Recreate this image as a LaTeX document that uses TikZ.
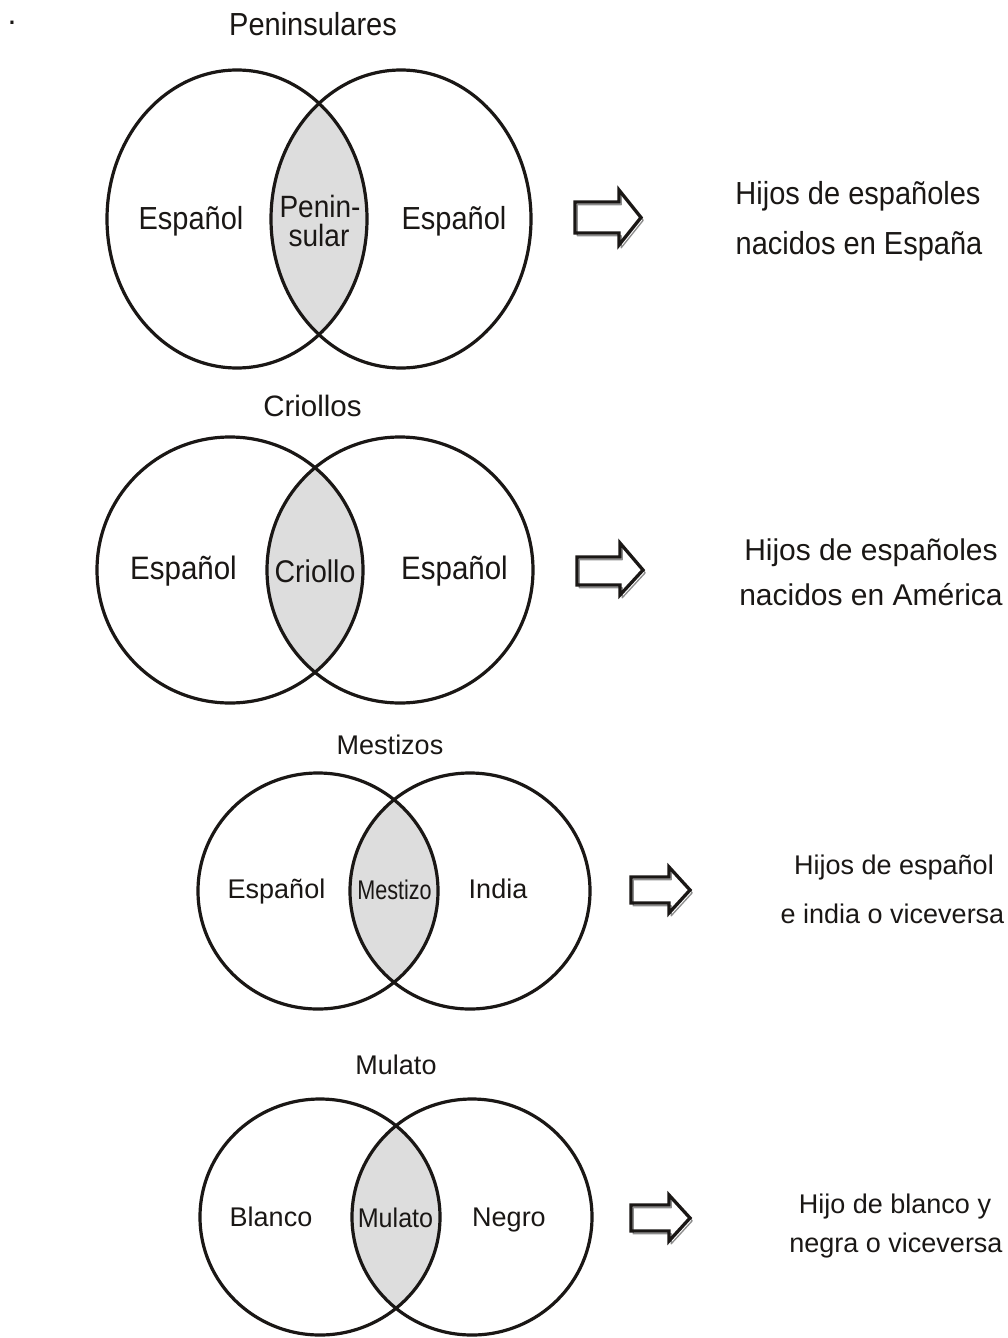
\documentclass[tikz,border=0pt]{standalone}
\usepackage{fontspec}
\setmainfont{Liberation Sans}
\usepackage{graphicx}
\definecolor{lensgray}{RGB}{221,221,221}
\definecolor{inkblack}{RGB}{26,23,21}
\newcommand\ystr[1]{\scalebox{1}[1.1]{#1}}
\newcommand\xcond[2]{\scalebox{#1}[1]{#2}}
\newcommand\fs[1]{\fontsize{#1pt}{#1pt}\selectfont}
\tikzset{
  txt/.style={inner sep=0pt, anchor=base, text=inkblack},
  vennline/.style={draw=inkblack, line width=3.2pt},
  arrowline/.style={draw=inkblack, line width=3.3pt, line join=miter},
  arrowshadow/.style={draw=black!45, line width=1.3pt, line join=round},
}
\newcommand\venn[5]{%
  \begin{scope}
    \clip (#1,#3) ellipse [x radius=#4, y radius=#5];
    \fill[lensgray] (#2,#3) ellipse [x radius=#4, y radius=#5];
  \end{scope}
  \draw[vennline] (#1,#3) ellipse [x radius=#4, y radius=#5];
  \draw[vennline] (#2,#3) ellipse [x radius=#4, y radius=#5];}
\newcommand\blockarrow[8]{%
  \draw[arrowshadow,shift={(2.2,2.8)}] (#1,#2) -- (#4,#2) -- (#4,#5) -- (#7,#8) -- (#4,#6) -- (#4,#3) -- (#1,#3) -- cycle;
  \draw[arrowline] (#1,#2) -- (#4,#2) -- (#4,#5) -- (#7,#8) -- (#4,#6) -- (#4,#3) -- (#1,#3) -- cycle;}
\begin{document}
\begin{tikzpicture}[x=1pt,y=-1pt]
\useasboundingbox[fill=white] (0,0) rectangle (1008,1338);

% stray dot
\node[txt, font=\fs{32}] (dot) at (12,25) {.};

% ---------- Peninsulares ----------
\venn{237}{401}{219}{130}{149}
\node[txt, font=\fs{29}] (t1) at (313,36) {\ystr{Peninsulares}};
\node[txt, font=\fs{29}] (e1l) at (191,229) {\ystr{Español}};
\node[txt, font=\fs{29}] (e1r) at (454,229) {\ystr{Español}};
\node[txt, font=\fs{28}] (p1a) at (320,217) {\ystr{Penin-}};
\node[txt, font=\fs{28}] (p1b) at (319,246) {\ystr{sular}};
\blockarrow{575}{202}{233}{619}{190}{245}{641}{217.5}
\node[txt, font=\fs{29}] (h1a) at (858,204) {\ystr{Hijos de españoles}};
\node[txt, font=\fs{29}] (h1b) at (859,254) {\ystr{nacidos en España}};

% ---------- Criollos ----------
\venn{230}{400}{570}{133}{133}
\node[txt, font=\fs{29.5}] (t2) at (312.5,416) {Criollos};
\node[txt, font=\fs{29.5}] (e2l) at (183.5,579) {\ystr{Español}};
\node[txt, font=\fs{29.5}] (e2r) at (454.5,579) {\ystr{Español}};
\node[txt, font=\fs{28.5}] (c2) at (315,582) {\ystr{Criollo}};
\blockarrow{577}{557}{585}{620}{543}{595}{643}{570}
\node[txt, font=\fs{30}] (h2a) at (871,560) {Hijos de españoles};
\node[txt, font=\fs{30}] (h2b) at (871,605) {nacidos en América};

% ---------- Mestizos ----------
\venn{318}{470}{891}{120}{118}
\node[txt, font=\fs{27}] (t3) at (390,754) {Mestizos};
\node[txt, font=\fs{27}] (e3l) at (276.5,898) {Español};
\node[txt, font=\fs{27}] (m3) at (394.5,899) {\xcond{0.8}{Mestizo}};
\node[txt, font=\fs{27}] (i3) at (498,898) {India};
\blockarrow{631}{877}{903}{669}{867}{913}{690}{890}
\node[txt, font=\fs{27}] (h3a) at (894,874) {Hijos de español};
\node[txt, font=\fs{27}] (h3b) at (892.5,923) {e india o viceversa};

% ---------- Mulato ----------
\venn{320}{472}{1217}{120}{118}
\node[txt, font=\fs{27}] (t4) at (396,1074) {Mulato};
\node[txt, font=\fs{27}] (b4) at (271,1226) {Blanco};
\node[txt, font=\fs{27}] (m4) at (395.5,1227) {\xcond{0.93}{Mulato}};
\node[txt, font=\fs{27}] (n4) at (509,1226) {Negro};
\blockarrow{631}{1205}{1231}{669}{1195}{1241}{690}{1218}
\node[txt, font=\fs{27}] (h4a) at (895,1213) {Hijo de blanco y};
\node[txt, font=\fs{27}] (h4b) at (896,1252) {negra o viceversa};
\end{tikzpicture}
\end{document}
